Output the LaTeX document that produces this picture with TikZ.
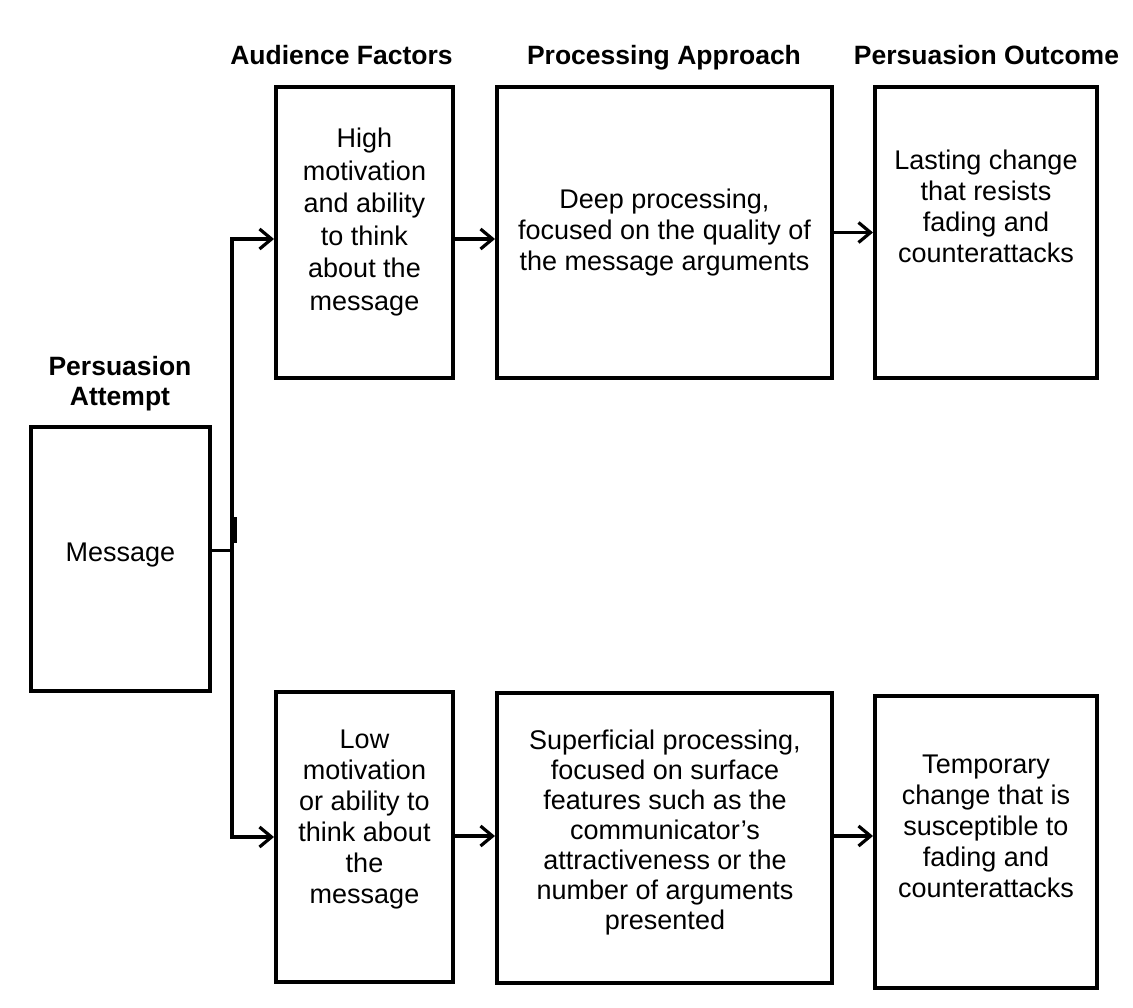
\documentclass[tikz,border=0pt]{standalone}
\usepackage{fontspec}
\setmainfont{Liberation Sans}
\usetikzlibrary{arrows.meta,calc}
\tikzset{
  boxnode/.style={draw=black, line width=4pt, fill=white, inner sep=0pt},
  txt/.style={align=center, font=\fontsize{27}{31}\selectfont, text=black, inner sep=0pt},
  head/.style={align=center, anchor=base, font=\fontsize{26.5}{30}\selectfont\bfseries, text=black, inner sep=0pt},
  conn/.style={draw=black, line width=3.5pt},
  arr/.style={conn, -{Straight Barb[length=12pt,width=20pt,line width=3.2pt]}}
}
\begin{document}
\begin{tikzpicture}[x=1pt,y=-1pt]
\useasboundingbox[fill=white] (0,0) rectangle (1133,1008);

% headers
\node[head] (hA) at (341.5,64.5) {Audience Factors};
\node[head] (hB) at (664,64.5) {Processing Approach};
\node[head] (hC) at (986.5,64.5) {Persuasion Outcome};
\node[head] (hD) at (120,406) {Persuasion\\Attempt};

% boxes
\node[boxnode, minimum width=179pt, minimum height=264pt] (msg) at (120.5,559) {};
\node[boxnode, minimum width=177pt, minimum height=291pt] (ha) at (364.5,232.5) {};
\node[boxnode, minimum width=335pt, minimum height=291pt] (hp) at (664.5,232.5) {};
\node[boxnode, minimum width=222pt, minimum height=291pt] (ho) at (986,232.5) {};
\node[boxnode, minimum width=177pt, minimum height=290pt] (la) at (364.5,837) {};
\node[boxnode, minimum width=335pt, minimum height=290pt] (lp) at (664.5,838) {};
\node[boxnode, minimum width=222pt, minimum height=292pt] (lo) at (986,842) {};

% texts
\node[txt] (msgt) at (120.5,555) {Message};
\node[txt, font=\fontsize{27}{32.5}\selectfont] (hat) at (364.5,222) {High\\motivation\\and ability\\to think\\about the\\message};
\node[txt] (hpt) at (664.5,233) {Deep processing,\\focused on the quality of\\the message arguments};
\node[txt] (hot) at (986,206) {Lasting change\\that resists\\fading and\\counterattacks};
\node[txt] (lat) at (364.5,820) {Low\\motivation\\or ability to\\think about\\the\\message};
\node[txt, font=\fontsize{27}{30}\selectfont] (lpt) at (665,833) {Superficial processing,\\focused on surface\\features such as the\\communicator’s\\attractiveness or the\\number of arguments\\presented};
\node[txt] (lot) at (986,826) {Temporary\\change that is\\susceptible to\\fading and\\counterattacks};

% connectors
\coordinate (j) at (232,550);
\coordinate (tk1) at (235,517);
\coordinate (tk2) at (235,543);
\draw[conn, line width=3pt] ($(msg.east)+(0,-9)$) -- (j);
\draw[conn, line width=3pt] (tk1) -- (tk2);
\draw[arr] (j) |- ($(ha.west)+(0,6.5)$);
\draw[arr] (j) |- (la.west);
\draw[arr] ($(ha.east)+(0,6.5)$) -- ($(hp.west)+(0,6.5)$);
\draw[arr] (hp.east) -- (ho.west);
\draw[arr] ($(la.east)+(0,-1)$) -- ($(lp.west)+(0,-2)$);
\draw[arr] ($(lp.east)+(0,-2)$) -- ($(lo.west)+(0,-6)$);
\end{tikzpicture}
\end{document}
